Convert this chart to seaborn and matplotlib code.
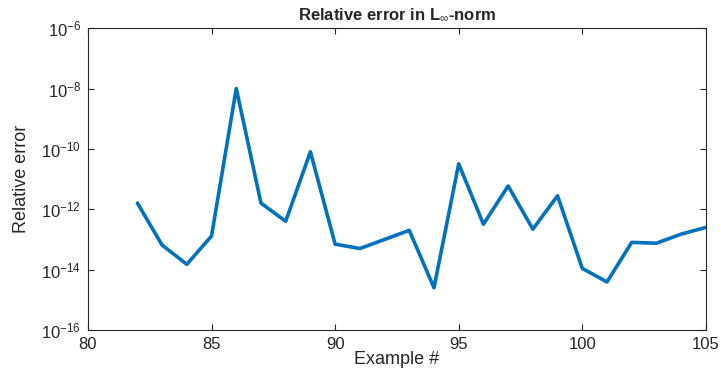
import numpy as np
import pandas as pd
import matplotlib
matplotlib.use("Agg")
import matplotlib.pyplot as plt
import seaborn as sns

examples = [82, 83, 84, 85, 86, 87, 88, 89, 90, 91, 92, 93,
            94, 95, 96, 97, 98, 99, 100, 101, 102, 103, 104, 105]
rel_error = [1.6e-12, 6.5e-14, 1.5e-14, 1.3e-13, 1.0e-8, 1.6e-12, 4.0e-13, 8.0e-11,
             7.0e-14, 5.0e-14, 1.0e-13, 2.0e-13, 2.5e-15, 3.2e-11, 3.2e-13, 5.9e-12,
             2.2e-13, 2.8e-12, 1.1e-14, 3.9e-15, 8.0e-14, 7.5e-14, 1.5e-13, 2.5e-13]
x_ticks = [80, 85, 90, 95, 100, 105]
y_ticks = [1e-16, 1e-14, 1e-12, 1e-10, 1e-8, 1e-6]

df = pd.DataFrame({'example': examples, 'err': rel_error})

sns.set_style("ticks")
plt.rcParams['font.family'] = ['Liberation Sans', 'DejaVu Sans']
plt.rcParams['mathtext.fontset'] = 'custom'
plt.rcParams['mathtext.rm'] = 'Liberation Sans'
plt.rcParams['mathtext.it'] = 'Liberation Sans:italic'
plt.rcParams['mathtext.bf'] = 'Liberation Sans:bold'

fig = plt.figure(figsize=(7.21, 3.69), dpi=100)
ax = fig.add_axes([0.122, 0.1057, 0.857, 0.818])

sns.lineplot(data=df, x='example', y='err', ax=ax, color='#0072BD', linewidth=2.6)

ax.set_yscale('log')
ax.set_xlim(80, 105)
ax.set_ylim(1e-16, 1e-6)
ax.set_xticks(x_ticks)
ax.set_yticks(y_ticks)
ax.set_yticklabels([f'$10^{{{int(np.log10(v))}}}$' for v in y_ticks])
ax.yaxis.set_minor_locator(matplotlib.ticker.NullLocator())

for s in ax.spines.values():
    s.set_visible(True)
    s.set_color('#262626')
    s.set_linewidth(0.8)
ax.tick_params(direction='in', top=True, right=True, length=4, width=0.8,
               labelsize=12, colors='#262626', pad=5)

ax.set_title(r'Relative error in L$_{\infty}$-norm', fontsize=12, fontweight='bold', pad=6)
ax.set_xlabel('Example #', fontsize=13, labelpad=-1)
ax.set_ylabel('Relative error', fontsize=13, labelpad=8)

fig.savefig('out.png', dpi=100)
